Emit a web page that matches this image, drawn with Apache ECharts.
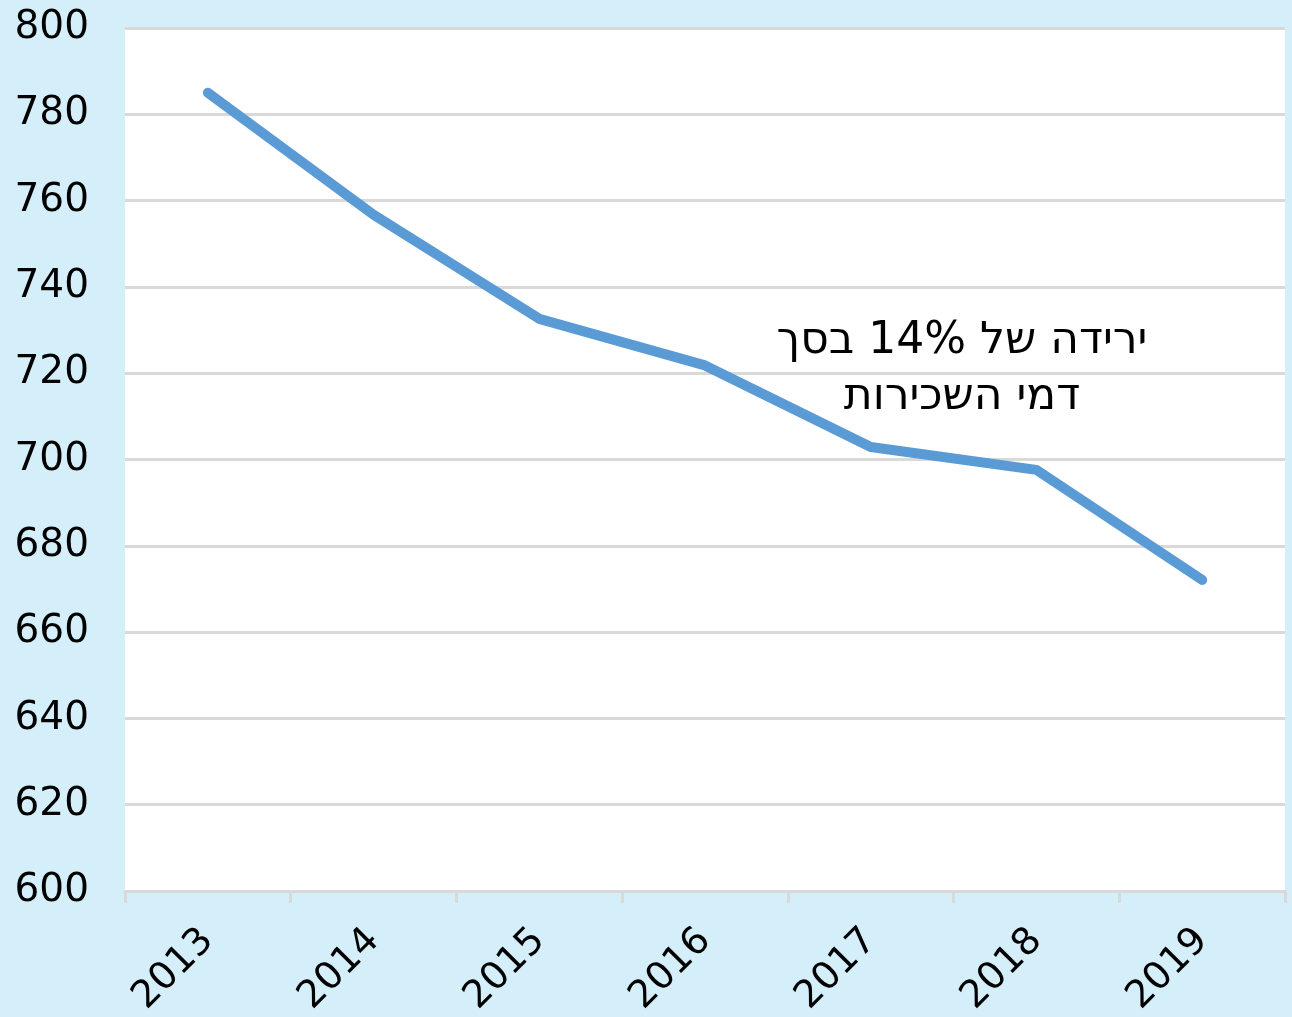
<!DOCTYPE html>
<html><head><meta charset="utf-8">
<script src="https://cdn.jsdelivr.net/npm/echarts@6/dist/echarts.min.js"></script>
<style>html,body{margin:0;padding:0;background:#d4eefa;}#c{width:1292px;height:1017px;}</style>
</head><body><div id="c"></div>
<script>
const years = ['2013','2014','2015','2016','2017','2018','2019'];
const values = [785, 756.7, 732.6, 721.8, 702.9, 697.6, 672.1];
const annotationLines = ['ירידה של 14% בסך', 'דמי השכירות'];
const yMin = 600, yMax = 800, yStep = 20;

const chart = echarts.init(document.getElementById('c'), null, {renderer:'canvas'});
const font = '"DejaVu Sans", Verdana, sans-serif';
chart.setOption({
  backgroundColor: '#d4eefa',
  animation: false,
  grid: {left:125, right:7, top:28, bottom:126, outerBoundsMode:'none', containLabel:false,
         show:true, backgroundColor:'#ffffff', borderWidth:0},
  xAxis: {
    type:'category', data: years, boundaryGap:true,
    axisLine:{show:true, lineStyle:{color:'#d9d9d9', width:3}},
    axisTick:{show:true, length:12, lineStyle:{color:'#d9d9d9', width:3}},
    axisLabel:{rotate:45, margin:44, fontSize:38, color:'#000', fontFamily:font}
  },
  yAxis: {
    type:'value', min:yMin, max:yMax, interval:yStep,
    axisLine:{show:false}, axisTick:{show:false},
    splitLine:{lineStyle:{color:'#d9d9d9', width:3}},
    axisLabel:{fontSize:39, color:'#000', fontFamily:font, margin:36, align:'right'}
  },
  series: [{
    type:'line', data: values, symbol:'none',
    lineStyle:{color:'#5b9bd5', width:10, cap:'round', join:'round'}
  }],
  graphic: [{
    type:'text', x:962, y:370,
    style:{text: annotationLines.join('\n'), fill:'#000', font:'44px ' + font, textAlign:'center', textVerticalAlign:'middle', lineHeight:56}
  }]
});
</script></body></html>
